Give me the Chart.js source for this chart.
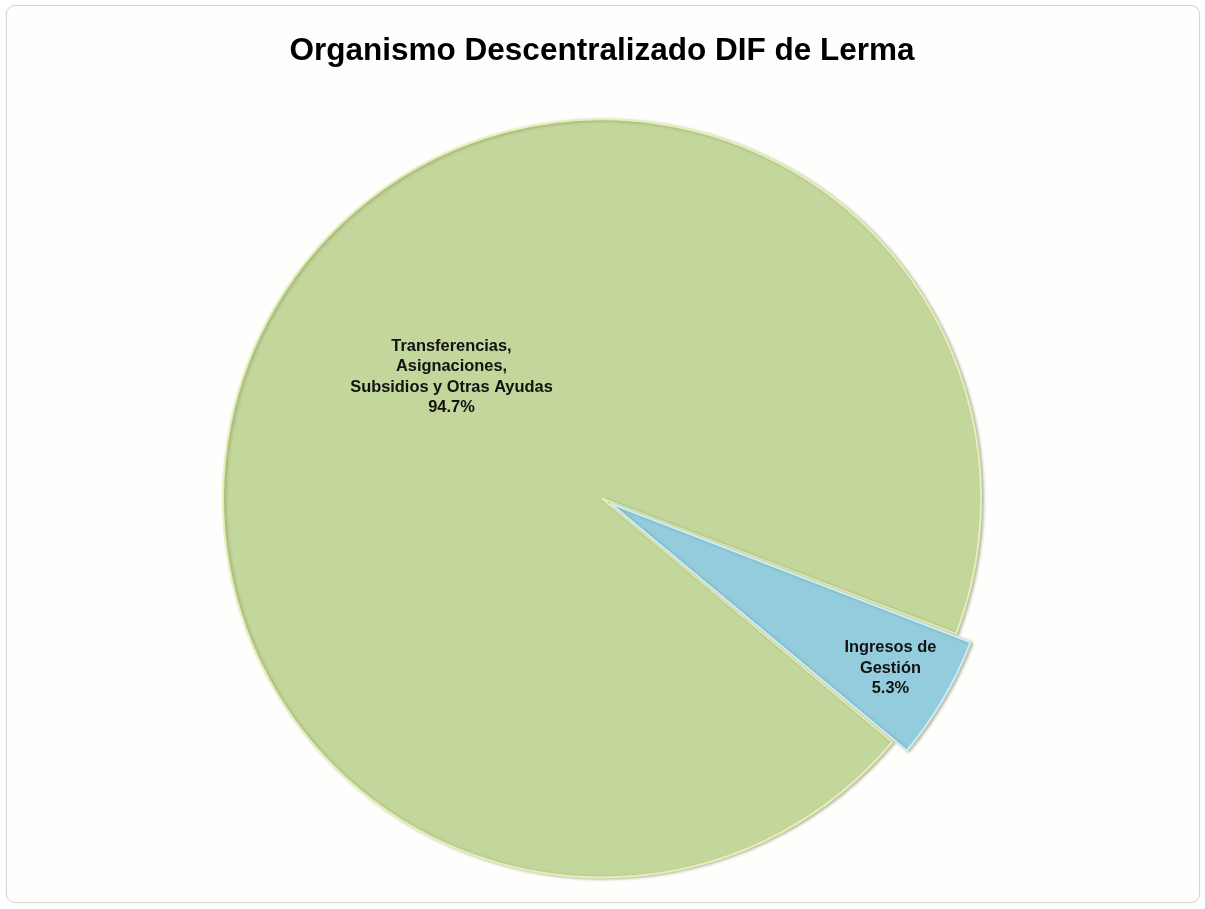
<!DOCTYPE html>
<html>
<head>
<meta charset="utf-8">
<script src="https://cdn.jsdelivr.net/npm/chart.js"></script>
<style>
  body { margin: 0; background: #fff; }
  #wrap { position: relative; width: 1205px; height: 909px; }
  #frame {
    position: absolute; left: 6px; top: 5px; width: 1192px; height: 896px;
    border: 1px solid #d6d6d2; border-radius: 9px; background: #fefefc;
    box-shadow: 0 0 2px rgba(0,0,0,0.08);
  }
  canvas { position: absolute; left: 0; top: 0; }
</style>
</head>
<body>
<div id="wrap">
  <div id="frame"></div>
  <canvas id="chart" width="1205" height="909"></canvas>
</div>
<script>
// data
const chartTitle = "Organismo Descentralizado DIF de Lerma";
const categories = [
    ["Transferencias,", "Asignaciones,", "Subsidios y Otras Ayudas"],
    ["Ingresos de", "Gestión"]
];
const shares = [94.7, 5.3];

const sliceColors = ["#c3d69b", "#93cddd"];
const edgeColors = ["#e6efb4", "#c9eef8"];
// where each label sits: fraction of the radius, and a small angle shift (deg)
const labelPlace = [
    { frac: 0.51, shift: 8.4 },
    { frac: 0.83, shift: 0 }
];

// draws the multi-line labels inside the slices
const sliceLabels = {
    id: "sliceLabels",
    afterDatasetsDraw(chart) {
        const c = chart.ctx;
        const meta = chart.getDatasetMeta(0);
        const total = shares.reduce((a, b) => a + b, 0);
        c.save();
        c.font = "bold 16.4px 'Liberation Sans', Arial, sans-serif";
        c.fillStyle = "#111";
        c.textAlign = "center";
        c.textBaseline = "middle";
        meta.data.forEach((arc, i) => {
            const p = arc.getProps(["x", "y", "startAngle", "endAngle", "outerRadius"], true);
            // chart.js moves an exploded slice by half its offset
            const off = (arc.options.offset || 0) / 2;
            const mid = (p.startAngle + p.endAngle) / 2 + labelPlace[i].shift * Math.PI / 180;
            const dist = off + p.outerRadius * labelPlace[i].frac;
            const x = p.x + Math.cos(mid) * dist;
            const y = p.y + Math.sin(mid) * dist;
            const lines = categories[i].concat([(shares[i] / total * 100).toFixed(1) + "%"]);
            const lh = 20.5;
            lines.forEach((t, k) => {
                c.fillText(t, x, y + (k - (lines.length - 1) / 2) * lh);
            });
        });
        c.restore();
    }
};

// soft rim shadow like the original bevel
const rimShadow = {
    id: "rimShadow",
    beforeDatasetsDraw(chart) {
        const c = chart.ctx;
        c.save();
        c.shadowColor = "rgba(80,90,40,0.35)";
        c.shadowBlur = 3;
        c.shadowOffsetX = 2;
        c.shadowOffsetY = 1;
    },
    afterDatasetsDraw(chart) {
        chart.ctx.restore();
    }
};

const ctx = document.getElementById("chart");
const chart = new Chart(ctx, {
    type: "pie",
    data: {
        labels: categories.map(l => l.join(" ")),
        datasets: [{
            data: shares,
            backgroundColor: sliceColors,
            borderColor: edgeColors,
            borderWidth: 2,
            offset: [0, 40]
        }]
    },
    options: {
        responsive: false,
        animation: false,
        rotation: 130,
        radius: 379,
        layout: { padding: { left: 0, right: 1, top: 0, bottom: 0 } },
        plugins: {
            legend: { display: false },
            tooltip: { enabled: false },
            title: {
                display: true,
                text: chartTitle,
                color: "#000",
                font: { family: "'Liberation Sans', Arial, sans-serif", size: 31.5, weight: "bold" },
                padding: { top: 32, bottom: 18 }
            }
        }
    },
    plugins: [rimShadow, sliceLabels]
});
</script>
</body>
</html>
